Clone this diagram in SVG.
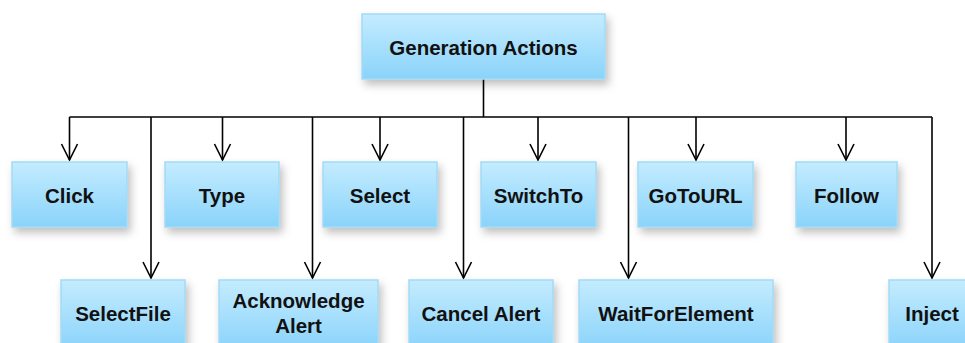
<svg xmlns="http://www.w3.org/2000/svg" width="965" height="343" viewBox="0 0 965 343">
<style>
.box{fill:url(#g);stroke:#a3daf6;stroke-width:1.5;filter:url(#sh)}
.t{font-family:"Liberation Sans",Arial,sans-serif;font-weight:bold;font-size:20.5px;fill:#111;text-anchor:middle;dominant-baseline:central}
.c{fill:none;stroke:#000;stroke-width:1.6}
</style>
<defs>
<linearGradient id="g" x1="0" y1="0" x2="0" y2="1">
<stop offset="0" stop-color="#c4ecff"/>
<stop offset="1" stop-color="#8ad3fa"/>
</linearGradient>
<filter id="sh" x="-20%" y="-20%" width="140%" height="160%">
<feDropShadow dx="3" dy="5" stdDeviation="4" flood-color="#000" flood-opacity="0.25"/>
</filter>
<marker id="a" viewBox="0 0 20 20" refX="18" refY="10" markerWidth="20" markerHeight="20" markerUnits="userSpaceOnUse" orient="auto">
<path d="M2,2 L18,10 L2,18" fill="none" stroke="#000" stroke-width="1.6"/>
</marker>
</defs>
<g id="connectors">
<path class="c" d="M483.5,79 V117"/>
<path class="c" d="M69.5,117 H932"/>
<path class="c" d="M69.5,117 V160" marker-end="url(#a)"/>
<path class="c" d="M222.5,117 V160" marker-end="url(#a)"/>
<path class="c" d="M380,117 V160" marker-end="url(#a)"/>
<path class="c" d="M538,117 V160" marker-end="url(#a)"/>
<path class="c" d="M696,117 V160" marker-end="url(#a)"/>
<path class="c" d="M846,117 V160" marker-end="url(#a)"/>
<path class="c" d="M151,117 V278" marker-end="url(#a)"/>
<path class="c" d="M312.5,117 V278" marker-end="url(#a)"/>
<path class="c" d="M463.5,117 V278" marker-end="url(#a)"/>
<path class="c" d="M628.5,117 V278" marker-end="url(#a)"/>
<path class="c" d="M932,117 V278" marker-end="url(#a)"/>
</g>
<g id="n-root"><rect class="box" x="362" y="14" width="243" height="65"/><text class="t" x="483.5" y="47">Generation Actions</text></g>
<g id="n-click"><rect class="box" x="12" y="162" width="115" height="65"/><text class="t" x="69.5" y="195">Click</text></g>
<g id="n-type"><rect class="box" x="165" y="162" width="114" height="65"/><text class="t" x="222" y="195">Type</text></g>
<g id="n-select"><rect class="box" x="323" y="162" width="114" height="65"/><text class="t" x="380" y="195">Select</text></g>
<g id="n-switchto"><rect class="box" x="481" y="162" width="115" height="65"/><text class="t" x="538.5" y="195">SwitchTo</text></g>
<g id="n-gotourl"><rect class="box" x="638" y="162" width="115" height="65"/><text class="t" x="695.5" y="195">GoToURL</text></g>
<g id="n-follow"><rect class="box" x="796" y="162" width="101" height="65"/><text class="t" x="846.5" y="195">Follow</text></g>
<g id="n-selectfile"><rect class="box" x="61" y="280" width="124" height="70"/><text class="t" x="123" y="313">SelectFile</text></g>
<g id="n-ack"><rect class="box" x="219" y="280" width="159" height="70"/><text class="t" x="298.5" y="300">Acknowledge</text><text class="t" x="298.5" y="325">Alert</text></g>
<g id="n-cancel"><rect class="box" x="409" y="280" width="144" height="70"/><text class="t" x="481" y="313">Cancel Alert</text></g>
<g id="n-wait"><rect class="box" x="579" y="280" width="194" height="70"/><text class="t" x="676" y="313">WaitForElement</text></g>
<g id="n-inject"><rect class="box" x="889" y="280" width="86" height="70"/><text class="t" x="932" y="313">Inject</text></g>
</svg>
